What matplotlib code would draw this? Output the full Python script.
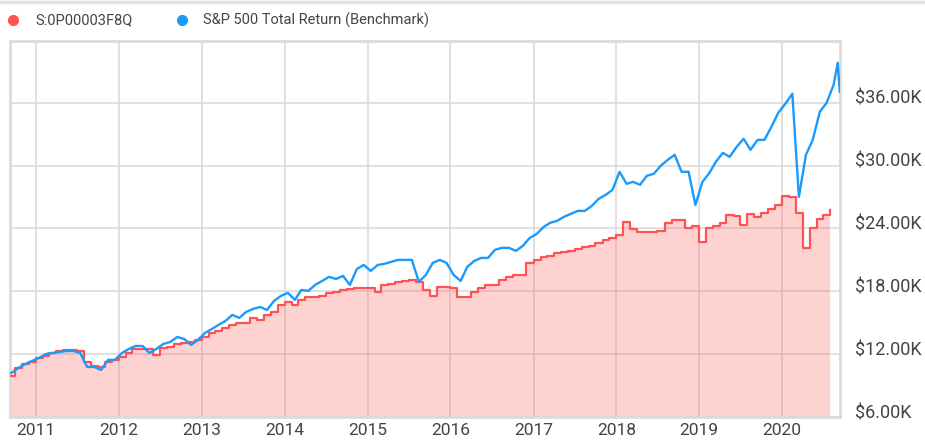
import numpy as np
import pandas as pd
import matplotlib
matplotlib.use("Agg")
import matplotlib.pyplot as plt
from matplotlib.lines import Line2D
from matplotlib.transforms import ScaledTranslation

plt.rcParams["font.family"] = ["Roboto", "DejaVu Sans"]

# fund: monthly growth of $10K (step line), Sep 2010 .. Aug 2020
fund_name = "S:0P00003F8Q"
fund_values = [
    9920, 10680, 11060, 11250, 11640, 11830, 12110, 12300, 12400, 12400,
    12300, 11250, 10870, 10780, 11250, 11450, 11730, 12110, 12500, 12500,
    12500, 11920, 12590, 12690, 12970, 13070, 13170, 13360, 13640, 14030,
    14220, 14500, 14790, 14980, 14980, 15460, 15270, 15750, 16030, 16700,
    16990, 16700, 17180, 17470, 17470, 17560, 17850, 17940, 18130, 18230,
    18330, 18330, 18330, 17940, 18610, 18710, 18900, 18990, 19090, 18900,
    18130, 17560, 18420, 18420, 18330, 17470, 17470, 17940, 18330, 18610,
    18610, 19090, 19380, 19570, 19570, 20710, 21000, 21290, 21380, 21670,
    21760, 21860, 22050, 22240, 22340, 22620, 22910, 23100, 23390, 24630,
    23960, 23680, 23680, 23680, 23770, 24540, 24820, 24820, 24060, 24250,
    22720, 24060, 24250, 24540, 25300, 25200, 24340, 25400, 25110, 25490,
    25870, 26250, 27110, 27020, 25490, 22150, 24060, 24920, 25300, 25780,
]
fund_dates = pd.date_range("2010-09-01", periods=len(fund_values), freq="MS")

# benchmark: mid-month samples plus the last two readings in Sep 2020
bench_name = "S&P 500 Total Return (Benchmark)"
bench_values = [
    10200, 10680, 11060, 11350, 11640, 12020, 12110, 12210, 12300, 12300,
    12110, 10780, 10780, 10490, 11450, 11450, 12110, 12500, 12780, 12780,
    12110, 12500, 12970, 13170, 13640, 13450, 12880, 13360, 14030, 14410,
    14790, 15170, 15750, 15460, 16030, 16320, 16510, 16220, 17080, 17560,
    17850, 17180, 18130, 18040, 18610, 18990, 19380, 19180, 19470, 18610,
    20140, 20520, 19950, 20520, 20620, 20810, 21000, 21000, 21000, 18900,
    19570, 20710, 21000, 20710, 19570, 18990, 20330, 20900, 21190, 21190,
    21960, 22150, 22150, 21860, 22340, 23100, 23480, 24150, 24540, 24730,
    25110, 25400, 25680, 25680, 26160, 26830, 27210, 27690, 29410, 28260,
    28450, 28170, 29030, 29220, 29980, 30550, 31030, 29410, 29410, 26250,
    28450, 29310, 30360, 31220, 30840, 31800, 32560, 31510, 32460, 32460,
    33710, 35040, 35900, 36860, 27020, 31030, 32460, 35140, 36000, 37720,
    39820, 37050,
]
bench_dates = list(pd.date_range("2010-09-01", periods=120, freq="MS")
                   + pd.Timedelta(days=14)) + [pd.Timestamp("2020-09-02"),
                                               pd.Timestamp("2020-09-11")]

y_ticks = [6000, 12000, 18000, 24000, 30000, 36000]
years = list(range(2011, 2021))

RED = "#ff5252"
BLUE = "#1a9bfc"
GRID = "#dcdcdc"
TXT = "#444444"

fig = plt.figure(figsize=(9.25, 4.42), dpi=100)
ax = fig.add_axes([10 / 925, 25 / 442, 830 / 925, 376 / 442])

ax.fill_between(fund_dates, fund_values, 0, step="post", color=RED,
                alpha=0.26, linewidth=0, zorder=2)
ax.step(fund_dates, fund_values, where="post", color=RED, lw=1.6, zorder=3)
ax.plot(bench_dates, bench_values, color=BLUE, lw=1.7, zorder=4)

ax.set_xlim(pd.Timestamp("2010-09-09"), pd.Timestamp("2020-09-12"))
ax.set_ylim(6000, 41900)

ax.set_xticks([pd.Timestamp(f"{y}-01-01") for y in years])
ax.set_xticklabels([str(y) for y in years])
ax.set_yticks(y_ticks)
ax.set_yticklabels([f"${v / 1000:.2f}K" for v in y_ticks])

ax.yaxis.tick_right()
ax.tick_params(axis="y", length=0, pad=11, labelsize=13, labelcolor=TXT)
ax.tick_params(axis="x", length=0, pad=4, labelsize=12.5, labelcolor=TXT)
shift = ScaledTranslation(0, 6 / 100, fig.dpi_scale_trans)
for lab in ax.get_yticklabels():
    lab.set_transform(lab.get_transform() + shift)
    lab.set_horizontalalignment("left")

ax.set_axisbelow(True)
ax.grid(True, color=GRID, lw=1.2, zorder=0)
for s in ax.spines.values():
    s.set_color(GRID)
    s.set_linewidth(2)

# thin separator at the very top
fig.add_artist(Line2D([0, 1], [1 - 2 / 442, 1 - 2 / 442], color="#e2e2e2",
                      lw=2.5, transform=fig.transFigure))

# legend row
ly = 1 - 20 / 442
for xd, xt, col, name in [(13, 35, RED, fund_name), (182, 203, BLUE, bench_name)]:
    fig.add_artist(Line2D([xd / 925], [ly], marker="o", ms=7, color=col, lw=0,
                          transform=fig.transFigure))
    fig.text(xt / 925, ly, name, ha="left", va="center", fontsize=10.5, color=TXT)

fig.savefig("out.png", dpi=100)
